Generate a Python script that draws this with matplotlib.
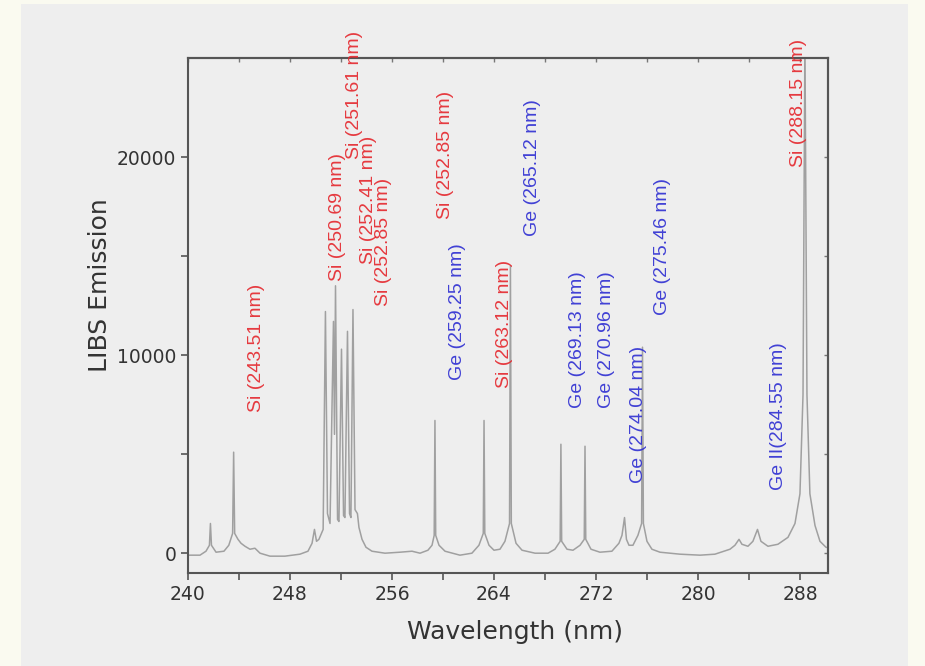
import matplotlib
matplotlib.use("Agg")
import matplotlib.pyplot as plt
from matplotlib.patches import Rectangle

# Spectrum: wavelength (nm) and emission
wavelength = [240.0, 240.94, 241.41, 241.68, 241.76, 241.84, 242.2, 242.82, 243.2, 243.5,
              243.58, 243.66, 243.92, 244.16, 244.47, 244.86, 245.25, 245.65, 246.43, 247.6,
              248.78, 249.41, 249.73, 249.92, 250.08, 250.27, 250.6, 250.78, 250.94, 251.14,
              251.41, 251.49, 251.57, 251.73, 251.84, 252.04, 252.2, 252.31, 252.51, 252.67,
              252.78, 252.94, 253.1, 253.29, 253.41, 253.65, 253.96, 254.43, 255.45, 256.63,
              257.57, 258.2, 258.82, 259.14, 259.31, 259.37, 259.43, 259.69, 260.16, 261.33,
              262.27, 262.82, 263.16, 263.22, 263.28, 263.61, 264.0, 264.47, 264.86, 265.22,
              265.29, 265.36, 265.73, 266.2, 267.22, 268.24, 268.78, 269.19, 269.25, 269.31,
              269.73, 270.2, 270.75, 271.08, 271.14, 271.2, 271.61, 272.31, 273.25, 273.8,
              274.04, 274.24, 274.39, 274.59, 274.9, 275.29, 275.58, 275.65, 275.72, 276.0,
              276.39, 277.02, 278.59, 280.16, 281.33, 282.51, 282.9, 283.22, 283.45, 283.92,
              284.31, 284.67, 284.94, 285.49, 286.27, 287.06, 287.61, 288.0, 288.24, 288.39,
              288.55, 288.78, 289.18, 289.57, 290.04, 290.35]
emission = [-100, -100, 100, 400, 1500, 400, 50, 100, 400, 1000,
            5100, 1000, 700, 500, 350, 200, 250, 0, -150, -150,
            -50, 100, 500, 1200, 600, 700, 1200, 12200, 2000, 1500,
            11700, 6000, 13500, 1700, 1600, 10300, 1900, 1800, 11200, 2000,
            1800, 12300, 2200, 2000, 1300, 700, 300, 100, 0, 50,
            100, 0, 150, 400, 900, 6700, 900, 400, 100, -100,
            0, 400, 1000, 6700, 1000, 400, 150, 200, 600, 1500,
            14500, 1500, 500, 150, 0, 0, 200, 600, 5500, 600,
            200, 150, 400, 700, 5400, 700, 200, 50, 100, 500,
            900, 1800, 700, 400, 400, 900, 1500, 10400, 1500, 600,
            200, 50, -50, -100, -50, 200, 400, 700, 450, 350,
            600, 1200, 600, 350, 450, 800, 1500, 3000, 8000, 26000,
            8000, 3000, 1400, 600, 300, 250]

# Line annotations: text, x position (nm), bottom of text (emission), element
label_texts = ["Si (243.51 nm)", "Si (250.69 nm)", "Si (251.61 nm)", "Si (252.41 nm)",
               "Si (252.85 nm)", "Si (252.85 nm)", "Ge (259.25 nm)", "Si (263.12 nm)",
               "Ge (265.12 nm)", "Ge (269.13 nm)", "Ge (270.96 nm)", "Ge (274.04 nm)",
               "Ge (275.46 nm)", "Ge II(284.55 nm)", "Si (288.15 nm)"]
label_x = [245.37, 251.76, 253.06, 254.12, 255.37, 260.16, 261.1, 264.82,
           267.06, 270.59, 272.86, 275.37, 277.18, 286.35, 287.92]
label_y = [7140, 13720, 19900, 14580, 12460, 16860, 8760, 8350,
           16000, 7340, 7340, 3540, 12050, 3190, 19490]
label_elem = ["Si", "Si", "Si", "Si", "Si", "Si", "Ge", "Si",
              "Ge", "Ge", "Ge", "Ge", "Ge", "Ge", "Si"]

x_ticks = [240, 244, 248, 252, 256, 260, 264, 268, 272, 276, 280, 284, 288]
x_ticklabels = ["240", "", "248", "", "256", "", "264", "", "272", "", "280", "", "288"]
y_ticks = [0, 5000, 10000, 15000, 20000]
y_ticklabels = ["0", "", "10000", "", "20000"]

colors = {"Si": "#e5262c", "Ge": "#2e2ed2"}

fig = plt.figure(figsize=(9.25, 6.66), dpi=100)
fig.patch.set_facecolor("#fafaf0")
fig.patches.append(Rectangle((21 / 925, 0), (908 - 21) / 925, (666 - 4) / 666,
                             transform=fig.transFigure, facecolor="#eeeeee",
                             edgecolor="none", zorder=-10))

ax = fig.add_axes([188 / 925, 1 - 573 / 666, 640 / 925, 515 / 666])
ax.set_zorder(5)
ax.set_facecolor("#eeeeee")
ax.plot(wavelength, emission, color="#a0a0a0", lw=1.1, zorder=2)

for t, x, y, e in zip(label_texts, label_x, label_y, label_elem):
    ax.text(x, y, t, rotation=90, ha="center", va="bottom", color=colors[e],
            fontsize=14, family=["Liberation Sans", "DejaVu Sans"], zorder=3, alpha=0.9)

ax.set_xlim(240, 290.2)
ax.set_ylim(-1000, 25000)
ax.set_xticks(x_ticks)
ax.set_xticklabels(x_ticklabels, fontsize=13.5, color="#333333")
ax.set_yticks(y_ticks)
ax.set_yticklabels(y_ticklabels, fontsize=13.5, color="#333333")
ax.tick_params(direction="out", length=5, width=1.2, color="#555555", top=False, right=False)

# inward ticks on top and right
axt = ax.secondary_xaxis("top")
axt.set_xticks(x_ticks)
axt.set_xticklabels([])
axt.tick_params(direction="in", length=3, width=1, color="#777777")
axr = ax.secondary_yaxis("right")
axr.set_yticks(y_ticks)
axr.set_yticklabels([])
axr.tick_params(direction="in", length=3, width=1, color="#777777")

for s in ax.spines.values():
    s.set_color("#555555")
    s.set_linewidth(1.5)
for a in (axt, axr):
    for s in a.spines.values():
        s.set_color("#555555")
        s.set_linewidth(1.5)

ax.set_xlabel("Wavelength (nm)", fontsize=18, color="#333333")
ax.set_ylabel("LIBS Emission", fontsize=18, color="#333333")
ax.xaxis.set_label_coords(0.511, -0.092)
ax.yaxis.set_label_coords(-0.119, 0.559)

fig.savefig("out.png", dpi=100, facecolor=fig.get_facecolor())
